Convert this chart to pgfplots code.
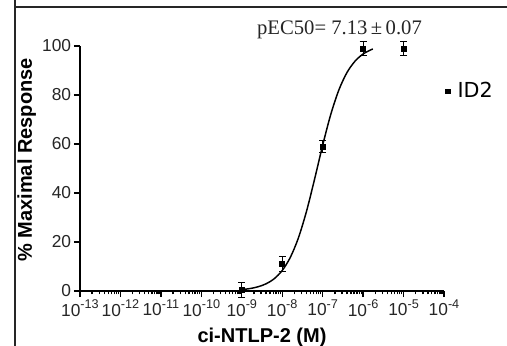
\documentclass[border=0pt]{standalone}
\usepackage{pgfplots}
\pgfplotsset{compat=1.18}
\usepackage{fontspec}
\setmainfont{Liberation Sans}
\newfontfamily\timesf{Liberation Serif}
\newfontfamily\dejavu{DejaVu Sans}
\newcommand{\ep}[1]{10\raisebox{0.42em}{\fontsize{9.5}{10}\selectfont #1}}
\begin{document}
\begin{tikzpicture}
\useasboundingbox (0,0) rectangle (380.25pt,259.5pt);
\draw[line width=1.1pt, black!85] (11.25pt,0) -- (11.25pt,259.5pt);
\draw[line width=1.1pt, black!85] (11.25pt,254.25pt) -- (380.25pt,254.25pt);
\begin{axis}[
  at={(60pt,41.25pt)}, anchor=south west,
  scale only axis, width=273pt, height=183.75pt,
  xmode=log, xmin=1e-13, xmax=1e-4, ymin=0, ymax=100,
  axis lines=left, axis line style={-, line width=1.2pt},
  clip=false,
  xtick={1e-13,1e-12,1e-11,1e-10,1e-9,1e-8,1e-7,1e-6,1e-5,1e-4},
  xticklabels={\ep{-13},\ep{-12},\ep{-11},\ep{-10},\ep{-9},\ep{-8},\ep{-7},\ep{-6},\ep{-5},\ep{-4}},
  minor xtick={2e-13,3e-13,4e-13,5e-13,6e-13,7e-13,8e-13,9e-13,
    2e-12,3e-12,4e-12,5e-12,6e-12,7e-12,8e-12,9e-12,
    2e-11,3e-11,4e-11,5e-11,6e-11,7e-11,8e-11,9e-11,
    2e-10,3e-10,4e-10,5e-10,6e-10,7e-10,8e-10,9e-10,
    2e-9,3e-9,4e-9,5e-9,6e-9,7e-9,8e-9,9e-9,
    2e-8,3e-8,4e-8,5e-8,6e-8,7e-8,8e-8,9e-8,
    2e-7,3e-7,4e-7,5e-7,6e-7,7e-7,8e-7,9e-7,
    2e-6,3e-6,4e-6,5e-6,6e-6,7e-6,8e-6,9e-6,
    2e-5,3e-5,4e-5,5e-5,6e-5,7e-5,8e-5,9e-5},
  ytick={0,20,40,60,80,100},
  yticklabels={0,20,40,60,80,100},
  tick align=outside, major tick length=4.5pt, minor tick length=2.5pt,
  tick style={line width=1pt, black},
  ticklabel style={font=\fontsize{13}{15}\selectfont, text=black!85},
  yticklabel style={inner sep=2pt},
  xticklabel style={inner sep=2pt},
  xlabel={ci-NTLP-2 (M)},
  xlabel style={font=\bfseries\fontsize{15}{18}\selectfont, at={(axis description cs:0.5,-0.2082)}, anchor=base},
  ylabel={\% Maximal Response},
  ylabel style={font=\bfseries\fontsize{15}{18}\selectfont, at={(axis description cs:-0.132,0.535)}, anchor=base},
  legend style={at={(axis description cs:1.003,0.816)}, anchor=west, draw=none, fill=none,
    font=\dejavu\fontsize{15.5}{18}\selectfont, inner sep=0pt},
  legend image code/.code={\path[draw=none, fill=none] (0pt,0pt) -- (7pt,0pt); \fill[black] (0pt,-1.7pt) rectangle (3.4pt,1.7pt);},
]
\addplot[black, line width=1.1pt, smooth, forget plot] coordinates {
  (1e-9,0.57) (1.585e-9,0.99) (2.512e-9,1.71) (3.981e-9,2.93) (6.310e-9,4.99)
  (1e-8,8.37) (1.585e-8,13.71) (2.512e-8,21.66) (3.981e-8,32.49) (6.310e-8,45.64)
  (1e-7,59.48) (1.585e-7,72.05) (2.512e-7,82.03) (3.981e-7,89.14) (6.310e-7,93.81)
  (1e-6,96.74) (1.585e-6,98.50) (1.74e-6,98.8)
};
\addplot[only marks, mark=square*, mark size=1.9pt, black,
  error bars/.cd, y dir=both, y explicit,
  error bar style={line width=0.8pt},
  error mark options={rotate=90, mark size=2.6pt, line width=0.8pt}]
  coordinates {
  (1e-9,0.5) +- (0,3)
  (1e-8,11) +- (0,3)
  (1e-7,59) +- (0,2.5)
  (1e-6,99) +- (0,3)
  (1e-5,99) +- (0,3)
};
\addlegendentry{ID2}
\node[font=\timesf\fontsize{15.5}{18}\selectfont, anchor=base, text=black!85] at (axis cs:2.61e-7,104.5) {pEC50= 7.13\,±\,0.07};
\end{axis}
\end{tikzpicture}
\end{document}
